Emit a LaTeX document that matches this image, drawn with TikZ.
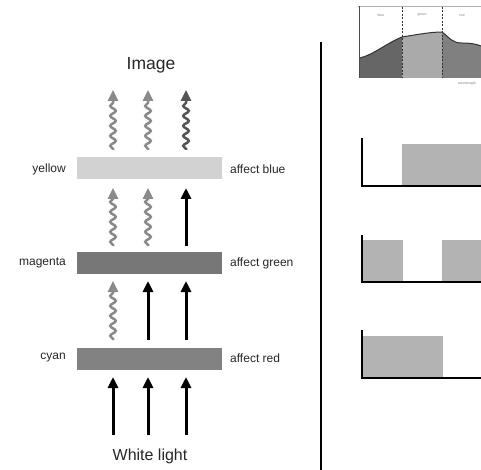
\documentclass[tikz,border=0pt]{standalone}
\usepackage{fontspec}
\setmainfont{Liberation Sans}
\usetikzlibrary{arrows.meta,decorations.pathmorphing}
\definecolor{wgray}{HTML}{8A8A8A}
\definecolor{wdark}{HTML}{555555}
\definecolor{ygray}{HTML}{D2D2D2}
\definecolor{mgray}{HTML}{777777}
\definecolor{cgray}{HTML}{828282}
\definecolor{pgray}{HTML}{B3B3B3}
\begin{document}
\begin{tikzpicture}[x=1pt,y=-1pt,
 bar/.style={minimum width=145pt, minimum height=22pt, inner sep=0pt, draw=none},
 lab/.style={font=\fontsize{12}{12}\selectfont, inner sep=0pt, text=black!85},
 big/.style={font=\fontsize{16}{16}\selectfont, inner sep=0pt, text=black!85},
 ray/.style={line width=3pt, -{Triangle[width=10pt,length=11pt]}},
 wave/.style={line width=2.5pt, draw=wgray, -{Triangle[width=10pt,length=11pt]}, decorate,
   decoration={snake, amplitude=2.8pt, segment length=10pt, post length=10pt, pre length=1pt}},
 tiny/.style={font=\fontsize{3.5}{4}\selectfont, inner sep=0pt, text=gray},
]
\useasboundingbox (0,0) rectangle (481,470);

% bars
\node[bar, fill=ygray] (yb) at (149.5,168.5) {};
\node[bar, fill=mgray] (mb) at (149.5,262.5) {};
\node[bar, fill=cgray] (cb) at (149.5,358.5) {};

% labels
\node[big, font=\fontsize{17.5}{18}\selectfont] (img) at (151,65) {Image};
\node[big] (wl) at (150,456) {White light};
\node[lab, anchor=east] (ly) at (66,169) {yellow};
\node[lab, anchor=east] (lm) at (66,263) {magenta};
\node[lab, anchor=east] (lc) at (66,358) {cyan};
\node[lab, anchor=west] (ry) at (230,169) {affect blue};
\node[lab, anchor=west] (rm) at (230,263) {affect green};
\node[lab, anchor=west] (rc) at (230,358) {affect red};

% ray coordinates
\foreach \i/\x in {1/113,2/148,3/186}{
  \coordinate (a\i) at (\x,435); \coordinate (A\i) at (\x,377);
  \coordinate (b\i) at (\x,340); \coordinate (B\i) at (\x,281);
  \coordinate (c\i) at (\x,246); \coordinate (C\i) at (\x,188);
  \coordinate (d\i) at (\x,150); \coordinate (D\i) at (\x,90);
}
% white light
\draw[ray] (a1) -- (A1);
\draw[ray] (a2) -- (A2);
\draw[ray] (a3) -- (A3);
% after cyan
\draw[wave] (b1) -- (B1);
\draw[ray] (b2) -- (B2);
\draw[ray] (b3) -- (B3);
% after magenta
\draw[wave] (c1) -- (C1);
\draw[wave] (c2) -- (C2);
\draw[ray] (c3) -- (C3);
% after yellow
\draw[wave] (d1) -- (D1);
\draw[wave] (d2) -- (D2);
\draw[wave, draw=wdark] (d3) -- (D3);

% divider
\coordinate (v1) at (321,42);
\coordinate (v2) at (321,470);
\draw[line width=2pt] (v1) -- (v2);

% spectrum graph
\begin{scope}
\clip (360,6) rectangle (481,78);
\fill[wdark!90] (360,78) -- (360,58) .. controls (375,54) and (385,44) .. (402,37) -- (402,78) -- cycle;
\fill[pgray!95!black] (402,78) -- (402,37) .. controls (415,35) and (430,32) .. (442,32) -- (442,78) -- cycle;
\fill[gray] (442,78) -- (442,32) .. controls (450,38) and (452,43) .. (462,43) .. controls (470,43) and (476,44) .. (481,46) -- (481,78) -- cycle;
\draw[line width=1pt, black!80] (360,58) .. controls (375,54) and (385,44) .. (402,37) .. controls (415,35) and (430,32) .. (442,32) .. controls (450,38) and (452,43) .. (462,43) .. controls (470,43) and (476,44) .. (481,46);
\end{scope}
\draw[line width=1.2pt, black!30] (358,6.5) -- (481,6.5);
\draw[line width=1pt, black!70] (359.5,6) -- (359.5,78);
\draw[line width=0.6pt, black!80, dashed, dash pattern=on 2pt off 1.5pt] (402,7) -- (402,78);
\draw[line width=0.6pt, black!80, dashed, dash pattern=on 2pt off 1.5pt] (442,7) -- (442,78);
\node[tiny] (tb) at (381,15) {blue};
\node[tiny] (tg) at (422,15) {green};
\node[tiny] (tr) at (462,15) {red};
\node[tiny] (tw) at (467,84) {wavelength};

% band graphs
\fill[pgray] (402,144) rectangle (481,186);
\draw[line width=1.8pt] (362,138) -- (362,186) -- (481,186);
\fill[pgray] (362,240) rectangle (403,282);
\fill[pgray] (442,240) rectangle (481,282);
\draw[line width=1.8pt] (362,235) -- (362,282) -- (481,282);
\fill[pgray] (362,336) rectangle (443,378);
\draw[line width=1.8pt] (362,330) -- (362,378) -- (481,378);
\end{tikzpicture}
\end{document}
